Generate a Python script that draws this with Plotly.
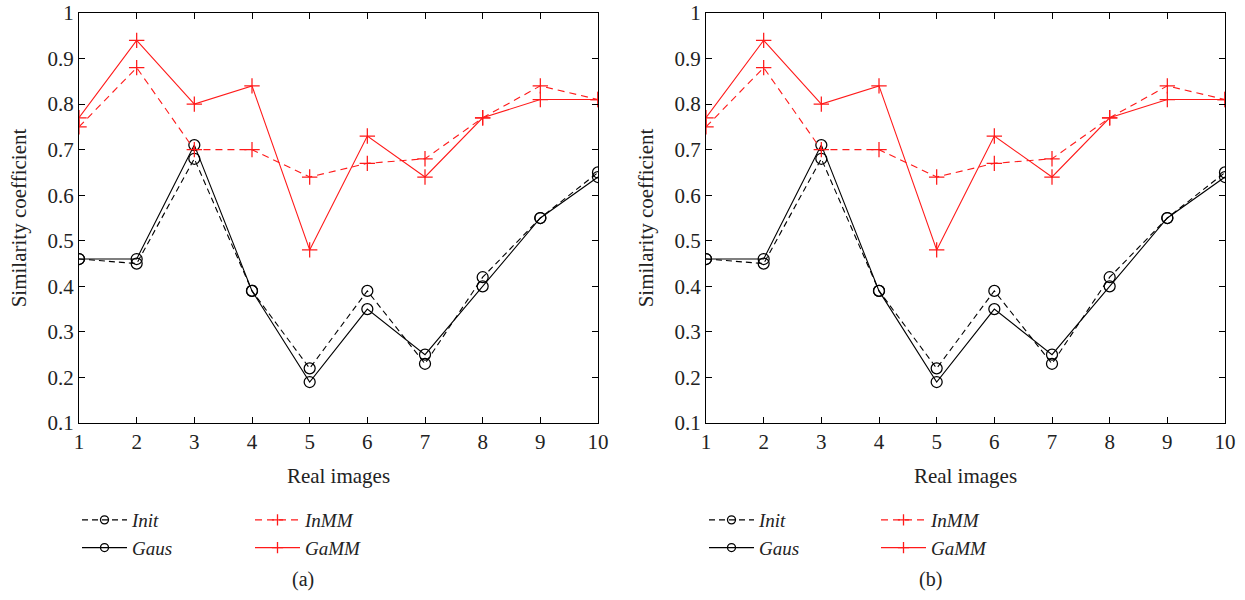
import plotly.graph_objects as go

images = [1, 2, 3, 4, 5, 6, 7, 8, 9, 10]
init_vals = [0.46, 0.45, 0.68, 0.39, 0.22, 0.39, 0.23, 0.42, 0.55, 0.65]
gaus_vals = [0.46, 0.46, 0.71, 0.39, 0.19, 0.35, 0.25, 0.40, 0.55, 0.64]
inmm_vals = [0.75, 0.88, 0.70, 0.70, 0.64, 0.67, 0.68, 0.77, 0.84, 0.81]
gamm_vals = [0.77, 0.94, 0.80, 0.84, 0.48, 0.73, 0.64, 0.77, 0.81, 0.81]
y_ticks = [0.1, 0.2, 0.3, 0.4, 0.5, 0.6, 0.7, 0.8, 0.9, 1]
y_tick_text = ["0.1", "0.2", "0.3", "0.4", "0.5", "0.6", "0.7", "0.8", "0.9", "1"]
captions = ["(a)", "(b)"]

W, H = 1245, 600
FONT = "Liberation Serif"
FS = 21
RED = "#ff1a1a"
TXT = "#222"

series = [
    dict(name="Init", vals=init_vals, color="black", dash="6px,4px", symbol="circle-open", side="L"),
    dict(name="Gaus", vals=gaus_vals, color="black", dash="solid", symbol="circle-open", side="L"),
    dict(name="InMM", vals=inmm_vals, color=RED, dash="7px,5px", symbol="cross-thin-open", side="R"),
    dict(name="GaMM", vals=gamm_vals, color=RED, dash="solid", symbol="cross-thin-open", side="R"),
]

fig = go.Figure()

panels = [
    dict(xa="x", ya="y", legL="legend", legR="legend2"),
    dict(xa="x2", ya="y2", legL="legend3", legR="legend4"),
]

for p in panels:
    for s in series:
        fig.add_trace(go.Scatter(
            x=images, y=s["vals"], name=s["name"], xaxis=p["xa"], yaxis=p["ya"],
            mode="lines+markers", showlegend=False,
            line=dict(color=s["color"], width=1.1, dash=s["dash"]),
            marker=dict(symbol=s["symbol"], size=11, color=s["color"], line=dict(width=1.25)),
        ))
    for s in series:
        # legend-only entry with smaller marker
        fig.add_trace(go.Scatter(
            x=[None], y=[None], name=s["name"], xaxis=p["xa"], yaxis=p["ya"],
            legend=p["legL"] if s["side"] == "L" else p["legR"],
            mode="lines+markers", showlegend=True,
            line=dict(color=s["color"], width=1.3, dash=s["dash"]),
            marker=dict(symbol=s["symbol"], size=8, color=s["color"], line=dict(width=1.3)),
        ))

def px_x(v):
    return v / W

def px_y(v):
    return 1 - v / H

ydom = [px_y(423), px_y(13)]
xdoms = [[px_x(79), px_x(598)], [px_x(706), px_x(1225)]]

axis_common = dict(
    showline=True, linecolor="black", linewidth=1.2, mirror="allticks",
    ticks="inside", ticklen=6, tickwidth=1, tickcolor="black",
    showgrid=False, zeroline=False, automargin=False, ticklabeloverflow="allow",
    tickfont=dict(family=FONT, size=FS, color=TXT),
)

xaxis_kw = dict(axis_common, range=[1, 10], tickvals=images,
                title=dict(text="Real images", font=dict(family=FONT, size=FS, color=TXT)))
yaxis_kw = dict(axis_common, range=[0.1, 1], tickvals=y_ticks, ticktext=y_tick_text,
                title=dict(text="Similarity coefficient", font=dict(family=FONT, size=FS, color=TXT)))

fig.update_layout(
    xaxis=dict(xaxis_kw, domain=xdoms[0], anchor="y"),
    yaxis=dict(yaxis_kw, domain=ydom, anchor="x"),
    xaxis2=dict(xaxis_kw, domain=xdoms[1], anchor="y2"),
    yaxis2=dict(yaxis_kw, domain=ydom, anchor="x2"),
)

leg_common = dict(
    orientation="v", xanchor="left", yanchor="top",
    font=dict(family=FONT, size=19, color=TXT, style="italic"),
    bgcolor="rgba(0,0,0,0)", borderwidth=0, itemwidth=45,
)
leg_top = px_y(501)
fig.update_layout(
    legend=dict(leg_common, x=px_x(77), y=leg_top),
    legend2=dict(leg_common, x=px_x(250), y=leg_top),
    legend3=dict(leg_common, x=px_x(704), y=leg_top),
    legend4=dict(leg_common, x=px_x(876), y=leg_top),
)

cap_x = [303, 930]
for cx, txt in zip(cap_x, captions):
    fig.add_annotation(
        x=px_x(cx), y=px_y(579), xref="paper", yref="paper", text=txt, showarrow=False,
        font=dict(family=FONT, size=20, color=TXT), xanchor="center", yanchor="middle",
    )

fig.update_layout(
    width=W, height=H,
    margin=dict(l=0, r=0, t=0, b=0, autoexpand=False),
    paper_bgcolor="white", plot_bgcolor="white",
    showlegend=True,
)

fig.write_html("out.html", config={"displayModeBar": False},
               post_script="document.body.style.margin='0';")
